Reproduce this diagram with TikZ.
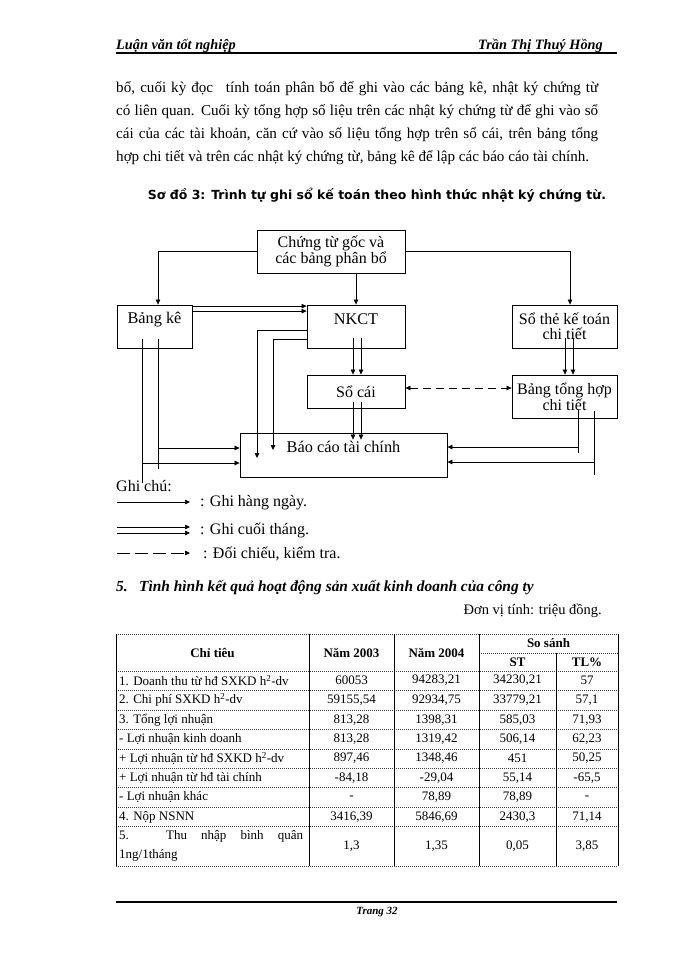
\documentclass[tikz,border=0pt]{standalone}
\usepackage{fontspec}
\setmainfont{Liberation Serif}
\newfontfamily\titlefont{DejaVu Sans}
\usetikzlibrary{arrows.meta}
\newcommand\tabrow[7]{%
  \node[lcell] (r#1a) at (119,#2) {#3};
  \node[ccell] (r#1b) at (351.5,#2) {#4};
  \node[ccell] (r#1c) at (436.5,#2) {#5};
  \node[ccell] (r#1d) at (517.5,#2) {#6};
  \node[ccell] (r#1e) at (587,#2) {#7};}
\newcommand\fullline[1]{\makebox[482pt][s]{#1}}
\begin{document}
\begin{tikzpicture}[x=1pt,y=-1pt,
  box/.style={draw, line width=0.8pt, inner sep=0pt, align=center, font=\fontsize{16}{15}\selectfont},
  lbl/.style={font=\fontsize{16.3}{16}\selectfont},
  tip/.tip={Triangle[length=5pt,width=4.5pt]},
  arr/.style={line width=0.7pt, -tip},
  plain/.style={line width=0.7pt},
  darr/.style={line width=0.7pt, dash pattern=on 8pt off 5pt, tip-tip},
  larr/.style={line width=0.7pt, dash pattern=on 13pt off 5pt, -tip},
  paraline/.style={anchor=base west, inner sep=0pt, font=\fontsize{15.1}{17}\selectfont},
  txt/.style={inner sep=0pt, font=\fontsize{14.5}{17}\selectfont},
  leg/.style={inner sep=0pt, font=\fontsize{16}{17}\selectfont},
  lcell/.style={anchor=west, inner sep=0pt, font=\fontsize{13}{15}\selectfont},
  ccell/.style={inner sep=0pt, font=\fontsize{13}{15}\selectfont},
  hcell/.style={inner sep=0pt, font=\fontsize{13}{15}\selectfont\bfseries},
  hline/.style={line width=0.8pt, black!75, dash pattern=on 1pt off 1pt},
  vline/.style={line width=0.8pt}
]
\useasboundingbox[fill=white] (0,0) rectangle (700,960);

% header
\node[anchor=base west, inner sep=0pt, font=\fontsize{14.3}{14}\selectfont\bfseries\itshape] (hl) at (116,50) {Luận văn tốt nghiệp};
\node[anchor=base east, inner sep=0pt, font=\fontsize{14.3}{14}\selectfont\bfseries\itshape] (hr) at (603,50) {Trần Thị Thuý Hồng};
\draw[line width=1.5pt] (116,53) -- (617,53);

% paragraph
\node[paraline] (p1) at (116,93) {\fullline{bổ, cuối kỳ đọc\hspace{8pt} tính toán phân bổ để ghi vào các bảng kê, nhật ký chứng từ}};
\node[paraline] (p2) at (116,116) {\fullline{có liên quan. Cuối kỳ tổng hợp số liệu trên các nhật ký chứng từ để ghi vào sổ}};
\node[paraline] (p3) at (116,139) {\fullline{cái của các tài khoản, căn cứ vào số liệu tổng hợp trên sổ cái, trên bảng tổng}};
\node[paraline] (p4) at (116,162) {hợp chi tiết và trên các nhật ký chứng từ, bảng kê để lập các báo cáo tài chính.};

% title
\node[inner sep=0pt, font=\titlefont\fontsize{12.5}{13}\selectfont\bfseries] (title) at (377,195) {Sơ đồ 3: Trình tự ghi sổ kế toán theo hình thức nhật ký chứng từ.};

% diagram boxes
\node[box, minimum width=148pt, minimum height=43pt] (cg) at (331,251.5) {Chứng từ gốc và\\các bảng phân bổ};
\node[box, minimum width=75pt, minimum height=43pt, label={[lbl, yshift=7pt]center:Bảng kê}] (bk) at (154.5,326.5) {};
\node[box, minimum width=98pt, minimum height=43pt, label={[lbl, yshift=7pt]center:NKCT}] (nk) at (356,326.5) {};
\node[box, minimum width=105pt, minimum height=43pt] (st) at (564.5,326.5) {Sổ thẻ kế toán\\chi tiết};
\node[box, minimum width=98pt, minimum height=33pt] (sc) at (356,391.5) {Sổ cái};
\node[box, minimum width=105pt, minimum height=43pt] (bt) at (564.5,396.5) {Bảng tổng hợp\\chi tiết};
\node[box, minimum width=207pt, minimum height=44pt, label={[lbl, yshift=8pt]center:Báo cáo tài chính}] (bc) at (343.5,455) {};

% connectors from Chứng từ gốc
\draw[arr] (cg.west) -| ([xshift=3.5pt]bk.north);
\draw[arr] (cg.east) -| ([xshift=5.5pt]st.north);
\draw[arr] (cg.south -| nk.north) -- (nk.north);

% Bảng kê -> NKCT (double)
\draw[arr] ([yshift=-1.5pt]bk.north east) -- ([yshift=-1.5pt]nk.north west);
\draw[arr] ([yshift=-6.5pt]bk.north east) -- ([yshift=-6.5pt]nk.north west);

% NKCT -> Sổ cái (double)
\draw[arr] ([xshift=-3pt,yshift=10pt]nk.south) -- ([xshift=-3pt]sc.north);
\draw[arr] ([xshift=5pt,yshift=10pt]nk.south) -- ([xshift=5pt]sc.north);

% Sổ thẻ -> Bảng tổng hợp (double)
\draw[arr] ([xshift=0.5pt,yshift=10pt]st.south) -- ([xshift=0.5pt]bt.north);
\draw[arr] ([xshift=8.5pt,yshift=10pt]st.south) -- ([xshift=8.5pt]bt.north);

% Sổ cái <-> Bảng tổng hợp (dashed)
\coordinate (dl) at ([yshift=3.5pt]sc.east);
\draw[darr] (dl) -- (dl -| bt.west);

% Sổ cái -> Báo cáo (double)
\coordinate (bcin) at ([yshift=-7pt]bc.north);
\coordinate (s1) at ([xshift=-3pt,yshift=6pt]sc.south);
\coordinate (s2) at ([xshift=5pt,yshift=6pt]sc.south);
\draw[arr] (s1) -- (s1 |- bcin);
\draw[arr] (s2) -- (s2 |- bcin);

% NKCT -> Báo cáo
\coordinate (n1) at ([yshift=-3.5pt]nk.west);
\coordinate (n2) at ([yshift=-12.5pt]nk.west);
\coordinate (b1) at ([xshift=-86.5pt,yshift=-3pt]bc.center);
\coordinate (b2) at ([xshift=-70.5pt,yshift=5pt]bc.center);
\draw[arr] (n1) -| (b1);
\draw[arr] (n2) -| (b2);

% Bảng kê -> Báo cáo
\coordinate (k1) at ([xshift=-12.5pt,yshift=9pt]bk.south);
\coordinate (k2) at ([xshift=3.5pt,yshift=9pt]bk.south);
\coordinate (bw1) at ([yshift=7pt]bc.west);
\coordinate (bw2) at ([yshift=-8pt]bc.west);
\draw[arr] (k2) |- (bw1);
\draw[plain] (k2 |- bw1) -- ++(0,21);
\draw[arr] (k1) |- (bw2);
\draw[plain] (k1 |- bw2) -- ++(0,20);

% Bảng tổng hợp -> Báo cáo
\coordinate (t1) at ([xshift=13.5pt,yshift=8pt]bt.south);
\coordinate (t2) at ([xshift=29.5pt,yshift=7pt]bt.south);
\coordinate (be1) at ([yshift=8pt]bc.east);
\coordinate (be2) at ([yshift=-7pt]bc.east);
\draw[arr] (t1) |- (be1);
\draw[plain] (t1 |- be1) -- ++(0,6);
\draw[arr] (t2) |- (be2);
\draw[plain] (t2 |- be2) -- ++(0,13);

% legend
\node[leg, anchor=west] (gc) at (116,486) {Ghi chú:};
\coordinate (l1s) at (117,502); \coordinate (l1e) at (190,502);
\coordinate (l2s) at (117,527); \coordinate (l2e) at (190,527);
\coordinate (l3s) at (117,533); \coordinate (l3e) at (190,533);
\coordinate (l4s) at (117,553); \coordinate (l4e) at (190,553);
\draw[arr] (l1s) -- (l1e);
\draw[arr] (l2s) -- (l2e);
\draw[arr] (l3s) -- (l3e);
\draw[larr] (l4s) -- (l4e);
\node[leg, anchor=west] (g1) at (200,503) {: Ghi hàng ngày.};
\node[leg, anchor=west] (g2) at (200,530) {: Ghi cuối tháng.};
\node[leg, anchor=west] (g3) at (203,554) {: Đối chiếu, kiểm tra.};

% section heading
\node[inner sep=0pt, anchor=west, font=\fontsize{15.4}{15}\selectfont\bfseries\itshape] (sec) at (116,588) {\makebox[23pt][l]{5.}Tình hình kết quả hoạt động sản xuất kinh doanh của công ty};
\node[txt, anchor=east] (unit) at (602,611) {Đơn vị tính: triệu đồng.};

% table grid
\foreach \yy in {634,671,690.5,710,729.5,749,768,787.5,807,826.5,866}
  \draw[hline] (116,\yy) -- (618,\yy);
\draw[hline] (479,653) -- (618,653);
\foreach \xx in {116,309,394,479,618}
  \draw[vline] (\xx,634) -- (\xx,866);
\draw[vline] (556,653) -- (556,866);

% table header
\node[hcell] (h1) at (212.5,652.5) {Chỉ tiêu};
\node[hcell] (h2) at (351.5,652.5) {Năm 2003};
\node[hcell] (h3) at (436.5,652.5) {Năm 2004};
\node[hcell] (h4) at (548.5,643.5) {So sánh};
\node[hcell] (h5) at (517.5,662) {ST};
\node[hcell] (h6) at (587,662) {TL\%};

% table rows
\tabrow{1}{680.5}{1. Doanh thu từ hđ SXKD h\textsuperscript{2}-dv}{60053}{94283,21}{34230,21}{57}
\tabrow{2}{700}{2. Chi phí SXKD h\textsuperscript{2}-dv}{59155,54}{92934,75}{33779,21}{57,1}
\tabrow{3}{720}{3. Tổng lợi nhuận}{813,28}{1398,31}{585,03}{71,93}
\tabrow{4}{739.5}{- Lợi nhuận kinh doanh}{813,28}{1319,42}{506,14}{62,23}
\tabrow{5}{758.5}{+ Lợi nhuận từ hđ SXKD h\textsuperscript{2}-dv}{897,46}{1348,46}{451}{50,25}
\tabrow{6}{778}{+ Lợi nhuận từ hđ tài chính}{-84,18}{-29,04}{55,14}{-65,5}
\tabrow{7}{797.5}{- Lợi nhuận khác}{-}{78,89}{78,89}{-}
\tabrow{8}{817}{4. Nộp NSNN}{3416,39}{5846,69}{2430,3}{71,14}
\node[lcell, text width=184pt, align=justify, font=\fontsize{13}{19}\selectfont] (r9a) at (119,846) {5. Thu nhập bình quân\linebreak 1ng/1tháng};
\node[ccell] (r9b) at (351.5,846) {1,3};
\node[ccell] (r9c) at (436.5,846) {1,35};
\node[ccell] (r9d) at (517.5,846) {0,05};
\node[ccell] (r9e) at (587,846) {3,85};

% footer
\draw[line width=1.5pt] (116,902) -- (617,902);
\node[inner sep=0pt, font=\fontsize{11}{11}\selectfont\bfseries\itshape] (ft) at (377,912) {Trang 32};
\end{tikzpicture}
\end{document}
